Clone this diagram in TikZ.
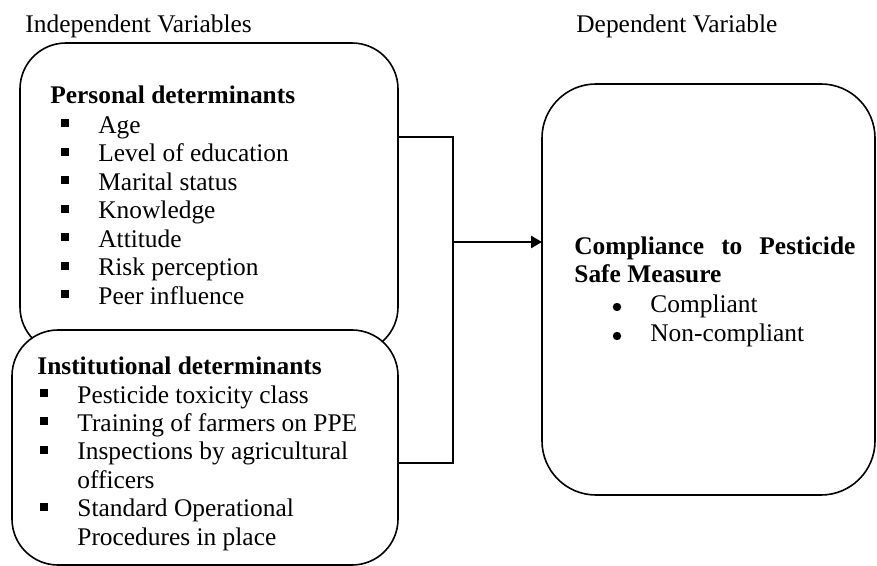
\documentclass[tikz,border=0pt]{standalone}
\usepackage{fontspec}
\setmainfont{Liberation Serif}
\usetikzlibrary{arrows.meta}
\begin{document}
\begin{tikzpicture}[x=0.5pt,y=-0.5pt,
 box/.style={draw, line width=0.8pt, rounded corners=23pt, inner sep=0pt, outer sep=0pt, fill=white},
 txt/.style={anchor=base west, inner sep=0pt, font=\fontsize{12.7}{14.4}\selectfont},
 hdr/.style={anchor=base west, inner sep=0pt, font=\fontsize{12.7}{14.4}\selectfont\bfseries},
 sq/.style={fill=black, minimum size=4pt, inner sep=0pt},
 dotb/.style={circle, fill=black, minimum size=4.2pt, inner sep=0pt},
 conn/.style={line width=1.3pt},
]
\useasboundingbox (0,0) rectangle (877,566);
% boxes
\node[box, minimum width=189pt, minimum height=155pt] (pers) at (209,198) {};
\node[box, minimum width=193pt, minimum height=117.5pt] (inst) at (205,447.5) {};
\node[box, rounded corners=27pt, minimum width=166.5pt, minimum height=205.5pt] (dep) at (708.5,289.5) {};
% connectors
\coordinate (b1) at (453,137);
\coordinate (b2) at (453,463);
\coordinate (b3) at (453,242);
\draw[conn] (pers.east |- b1) -- (b1) -- (b2) -- (inst.east |- b2);
\draw[conn,-{Triangle[length=5.5pt,width=6pt]}] (b3) -- (dep.west |- b3);
% titles
\node[txt] (iv) at (25,33) {Independent Variables};
\node[txt] (dv) at (576,33) {Dependent Variable};
% personal
\node[hdr] (ph) at (50,104) {Personal determinants};
\foreach \t [count=\i] in {Age, Level of education, Marital status, Knowledge, Attitude, Risk perception, Peer influence} {
  \node[sq] (ps\i) at (65,{123.5+28.5*(\i-1)}) {};
  \node[txt] (pi\i) at (98,{133.5+28.5*(\i-1)}) {\t};
}
% institutional
\node[hdr] (ih) at (37,374.6) {Institutional determinants};
\node[sq] (is1) at (44,393) {};
\node[txt] (ii1) at (77,403) {Pesticide toxicity class};
\node[sq] (is2) at (44,421.4) {};
\node[txt] (ii2) at (77,431.4) {Training of farmers on PPE};
\node[sq] (is3) at (44,449.8) {};
\node[txt] (ii3) at (77,459.8) {Inspections by agricultural};
\node[txt] (ii3b) at (77,488.2) {officers};
\node[sq] (is4) at (44,506.6) {};
\node[txt] (ii4) at (77,516.6) {Standard Operational};
\node[txt] (ii4b) at (77,545) {Procedures in place};
% dependent
\node[hdr] (dh1) at (574,255) {\makebox[140.5pt][s]{Compliance to Pesticide}};
\node[hdr] (dh2) at (574,283) {Safe Measure};
\node[dotb] (dd1) at (617,307) {};
\node[txt] (di1) at (650,313) {Compliant};
\node[dotb] (dd2) at (617,336) {};
\node[txt] (di2) at (650,342) {Non-compliant};
\end{tikzpicture}
\end{document}
